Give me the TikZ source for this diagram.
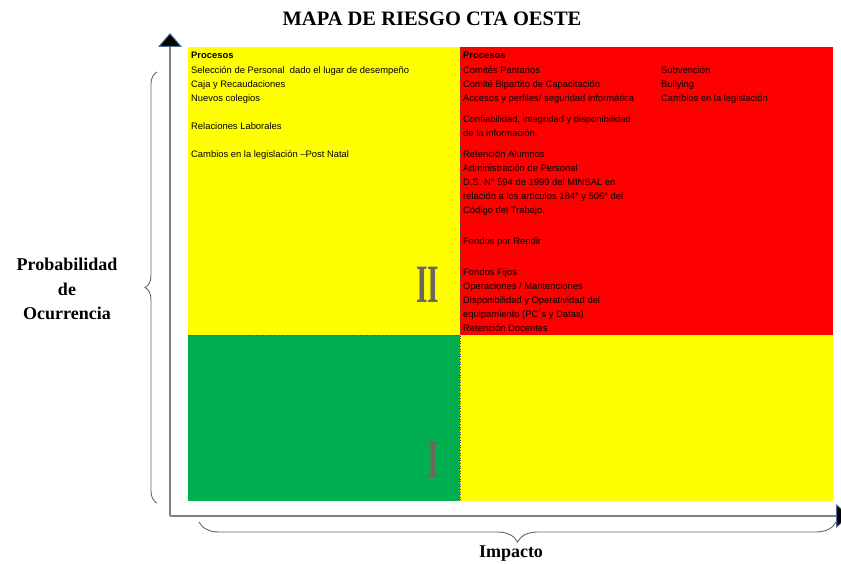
\documentclass[tikz,border=0pt]{standalone}
\usepackage{fontspec}
\setmainfont{Liberation Serif}
\newfontfamily\tah{Liberation Sans}
\usetikzlibrary{arrows.meta,decorations.pathreplacing}
\definecolor{ylw}{HTML}{FFFF00}
\definecolor{rd}{HTML}{FF0000}
\definecolor{grn}{HTML}{00B050}
\definecolor{axisgray}{HTML}{808080}
\definecolor{tipblue}{HTML}{4F6E96}
\definecolor{numgray}{HTML}{6E685C}
\tikzset{
  proc/.style={anchor=north west, inner sep=0pt, align=left, font=\tah\fontsize{9.4}{14}\selectfont},
  axtip/.style={draw=axisgray, line width=1.6pt, -{Triangle[width=24pt,length=14pt,fill=black,color=tipblue,line width=1pt]}},
  brc/.style={draw=axisgray!80!black, line width=0.9pt, decorate},
  axlabel/.style={font=\bfseries\fontsize{18}{24.5}\selectfont, align=center},
  roman/.style={text=numgray, font=\bfseries\fontsize{54}{54}\selectfont, xscale=0.55, inner sep=0pt},
  divider/.style={draw=black!70, line width=0.6pt, dotted}
}
\begin{document}
\begin{tikzpicture}[x=1pt,y=-1pt]
\useasboundingbox (0,0) rectangle (841,564);
% title
\node[font=\bfseries\fontsize{20.5}{24}\selectfont] (title) at (432,19) {MAPA DE RIESGO CTA OESTE};
% cells
\fill[ylw] (188,47) rectangle (460,335);
\fill[rd] (460,47) rectangle (833,335);
\fill[grn] (188,335) rectangle (460,501);
\fill[ylw] (460,335) rectangle (833,501);
\draw[divider] (460,47) -- (460,501);
\draw[divider] (188,335) -- (460,335);
% axes
\coordinate (origin) at (170,516);
\coordinate (ytop) at (170,33);
\coordinate (xend) at (850,516);
\draw[axtip] (origin) -- (ytop);
\draw[axtip] (origin) -- (xend);
% braces
\coordinate (lb1) at (157,503);
\coordinate (lb2) at (157,72);
\draw[brc, decoration={brace, amplitude=12pt}] (lb1) -- (lb2);
\coordinate (bb1) at (199,522);
\coordinate (bb2) at (836,522);
\draw[brc, decoration={brace, mirror, amplitude=20pt}] (bb1) -- (bb2);
% axis labels
\node[axlabel] (prob) at (67,289) {Probabilidad\\de\\Ocurrencia};
\node[axlabel] (imp) at (511,554) {Impacto};
% roman numerals
\node[roman] (two) at (428,285) {II};
\node[roman] (one) at (433,460) {I};
% yellow text
\node[proc] (ytext) at (191,48.7) {\strut\textbf{Procesos}\\[1pt]
Selección de Personal\ \ dado el lugar de desempeño\\
Caja y Recaudaciones\\
Nuevos colegios\\[14pt]
Relaciones Laborales\\[14pt]
Cambios en la legislación –Post Natal};
% red text
\node[proc] (rtext) at (463,48.7) {\strut\textbf{Procesos}\\[1pt]
Comités Paritarios\\
Comité Bipartito de Capacitación\\
Accesos y perfiles/ seguridad informática\\[7pt]
Confiabilidad, integridad y disponibilidad\\
de la información.\\[7pt]
Retención Alumnos\\
Administración de Personal\\
D.S. N° 594 de 1999 del MINSAL en\\
relación a los artículos 184° y 506° del\\
Código del Trabajo.\\[17pt]
Fondos por Rendir\\[17pt]
Fondos Fijos\\
Operaciones / Mantenciones\\
Disponibilidad y Operatividad del\\
equipamiento (PC´s y Datas)\\
Retención Docentes};
\node[proc] (rtext2) at (661,63.7) {\strut Subvención\\
Bullying\\
Cambios en la legislación};
\end{tikzpicture}
\end{document}
